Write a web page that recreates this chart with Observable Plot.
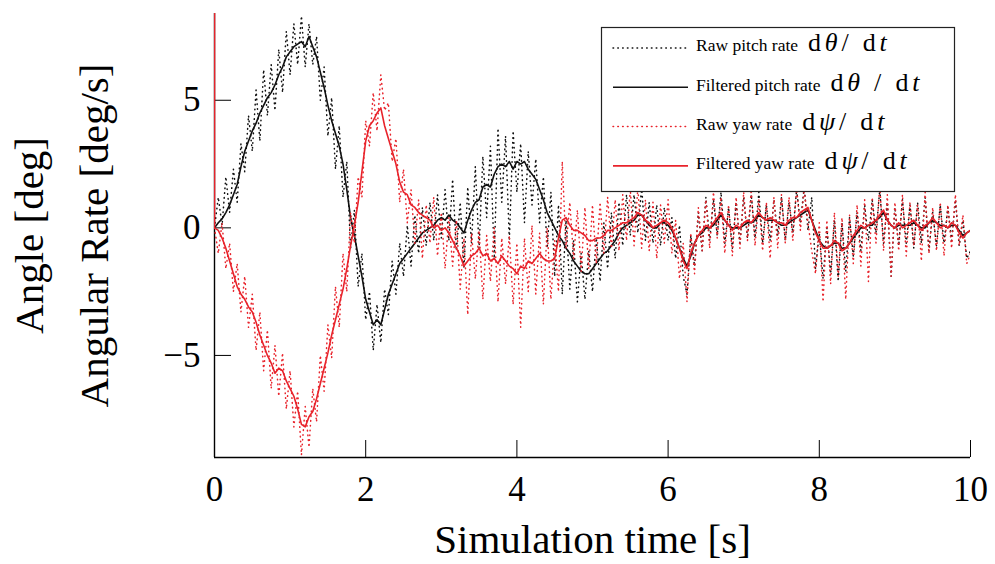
<!DOCTYPE html>
<html>
<head>
<meta charset="utf-8">
<script src="https://cdn.jsdelivr.net/npm/d3@7"></script>
<script src="https://cdn.jsdelivr.net/npm/@observablehq/plot@0.6"></script>
<style>
  html, body { margin: 0; padding: 0; background: #fff; }
  #chart { width: 995px; height: 564px; }
</style>
</head>
<body>
<div id="chart"></div>
<script>
// ---------------- data ----------------
const sampleStep = 0.05;           // seconds between samples, t = 0 … 10
const xDomain = [0, 10];
const yDomain = [-9, 8.4];
const xTicks = [0, 2, 4, 6, 8, 10];
const yTicks = [-5, 0, 5];
const xLabel = "Simulation time [s]";
const yLabelLines = ["Angle [deg]", "Angular Rate [deg/s]"];

const pitchRaw = [
  0.0, 1.2, 0.1, 2.0, 0.6, 2.3, 1.0, 3.3, 2.2, 4.4,
  3.0, 5.4, 3.4, 6.2, 4.4, 6.4, 4.6, 7.0, 5.3, 7.7,
  6.0, 8.0, 6.4, 8.3, 6.3, 8.0, 6.4, 7.5, 5.0, 6.3,
  3.6, 5.1, 2.3, 4.0, 1.2, 2.6, -0.8, 0.7, -2.3, -1.0,
  -3.6, -2.5, -4.8, -3.0, -4.5, -2.4, -3.4, -1.3, -2.6, -0.6,
  -1.9, 0.1, -1.5, 0.5, -1.0, 0.8, -0.7, 1.0, -0.5, 1.3,
  -0.4, 1.5, -0.5, 1.9, -0.9, 1.0, -1.6, 1.6, -0.6, 2.4,
  -0.8, 2.8, 0.4, 3.2, -1.2, 3.9, 1.0, 3.6, -0.5, 3.8,
  1.4, 3.3, 0.2, 3.0, 0.9, 2.7, 0.2, 2.0, -0.8, 1.4,
  -1.9, 0.9, -2.6, 0.3, -2.4, -0.5, -2.9, -1.0, -2.8, -0.9,
  -2.5, -0.4, -2.1, 0.2, -1.6, 0.6, -1.2, 1.0, -0.7, 1.3,
  -0.3, 1.3, -0.2, 1.6, -0.5, 1.0, -0.6, 0.9, -0.7, 0.8,
  -0.5, 0.4, -1.2, 0.1, -1.9, -2.6, -0.3, -1.5, 0.6, -0.9,
  1.2, -0.5, 1.1, -0.3, 1.4, -0.6, 0.8, -0.8, 1.0, -0.6,
  1.2, -0.4, 1.3, -0.4, 1.4, -0.6, 0.9, -0.5, 1.1, -0.3,
  1.2, -0.5, 1.0, -0.2, 1.5, 0.2, 1.6, -0.1, 1.2, -1.6,
  -0.2, -2.0, 0.0, -1.8, 0.3, -2.1, 0.2, -1.7, 0.4, -1.1,
  0.6, -0.9, 0.9, -0.5, 1.1, -0.2, 1.5, -0.6, 1.0, -1.9,
  0.8, -0.7, 1.1, -0.6, 0.9, -0.8, 1.0, -0.6, 1.2, -0.9,
  0.6, -0.7, 0.9, -0.6, 0.8, -0.5, 1.1, -0.7, 0.3, -1.2,
  -0.9
];

const pitchFiltered = [
  0.0, 0.2, 0.35, 0.6, 0.9, 1.3, 1.7, 2.4, 3.0, 3.4,
  3.8, 4.1, 4.5, 4.8, 5.1, 5.3, 5.6, 6.0, 6.3, 6.7,
  6.9, 7.1, 7.2, 7.3, 7.1, 7.5, 7.1, 6.7, 6.1, 5.5,
  4.8, 4.2, 3.7, 3.2, 2.5, 1.5, 0.4, -0.3, -1.1, -1.9,
  -2.8, -3.3, -3.8, -3.6, -3.8, -3.2, -2.6, -2.2, -1.8, -1.4,
  -1.2, -1.0, -0.8, -0.6, -0.4, -0.2, -0.1, 0.0, 0.1, 0.3,
  0.4, 0.3, 0.5, 0.3, 0.2, 0.0, -0.2, 0.3, 0.7, 1.0,
  1.1, 1.6, 1.7, 1.6, 2.1, 2.4, 2.5, 2.4, 2.6, 2.3,
  2.6, 2.5, 2.6, 2.3, 2.1, 1.9, 1.5, 1.1, 0.6, 0.3,
  0.0, -0.3, -0.5, -0.8, -1.0, -1.3, -1.5, -1.7, -1.8, -1.8,
  -1.6, -1.4, -1.2, -1.0, -0.9, -0.7, -0.5, -0.2, 0.0, 0.1,
  0.2, 0.3, 0.5, 0.5, 0.3, 0.1, 0.0, 0.0, 0.2, 0.2,
  0.1, -0.1, -0.4, -0.8, -1.2, -1.5, -1.1, -0.6, -0.3, -0.2,
  0.0, 0.0, 0.1, 0.3, 0.5, 0.3, 0.1, 0.0, 0.0, 0.0,
  0.1, 0.2, 0.2, 0.3, 0.5, 0.4, 0.3, 0.3, 0.3, 0.2,
  0.1, 0.1, 0.2, 0.3, 0.4, 0.5, 0.6, 0.7, 0.3, -0.1,
  -0.5, -0.7, -0.8, -0.7, -0.6, -0.6, -0.8, -0.8, -0.6, -0.4,
  -0.2, 0.0, 0.0, 0.1, 0.1, 0.3, 0.4, 0.6, 0.3, 0.1,
  0.0, 0.1, 0.1, 0.1, 0.1, 0.2, 0.1, 0.0, 0.0, 0.2,
  0.3, 0.2, 0.1, 0.1, 0.0, 0.1, 0.1, -0.1, -0.3, -0.2,
  -0.1
];

const yawRaw = [
  0.0, -1.0, 0.2, -1.6, -0.6, -2.5, -1.4, -3.3, -1.9, -3.9,
  -2.6, -4.8, -3.3, -5.6, -4.0, -6.3, -4.6, -6.6, -4.9, -7.1,
  -5.6, -7.8, -6.4, -8.9, -7.0, -8.6, -6.3, -7.6, -5.0, -6.4,
  -3.8, -5.1, -2.3, -3.9, -1.0, -2.5, 0.6, -0.6, 2.0, 1.2,
  4.2, 3.2, 5.3, 3.8, 6.0, 4.6, 4.9, 2.6, 3.5, 1.0,
  2.3, 0.2, 1.5, -0.6, 1.1, -1.2, 0.9, -0.6, 1.2, -1.1,
  0.6, -1.6, 0.4, -1.5, 0.3, -2.4, -0.4, -3.4, -0.2, -2.0,
  -0.1, -2.8, -0.3, -2.1, 0.0, -2.9, -0.4, -2.2, -0.3, -3.0,
  -0.6, -3.9, -0.4, -2.5, 0.1, -2.6, -0.2, -3.0, 0.0, -2.8,
  -0.5, -2.5, 2.6, -0.8, 1.0, -1.2, 0.7, -1.7, 0.8, -1.6,
  0.9, -1.4, 1.0, -1.0, 1.2, -0.8, 1.1, -0.9, 1.3, -0.5,
  1.5, -0.7, 1.6, -0.8, 1.1, -0.9, 1.0, -1.2, 0.9, -0.6,
  1.1, -1.0, 0.3, -2.0, -0.6, -2.9, -0.2, -1.8, 0.8, -0.9,
  1.1, -0.8, 1.4, -0.4, 1.2, -1.0, 0.9, -1.1, 1.2, -0.8,
  1.4, -0.5, 1.5, -0.7, 1.1, -0.9, 1.0, -1.2, 1.2, -0.8,
  1.3, -0.6, 1.2, -0.5, 1.6, -0.1, 1.5, 0.2, -0.9, -1.8,
  0.2, -2.9, 0.3, -2.2, 0.6, -1.9, 0.4, -2.8, 0.5, -1.4,
  0.9, -1.5, 1.1, -2.1, 1.2, -0.6, 1.7, -0.9, 1.3, -1.9,
  1.0, -0.9, 1.3, -1.1, 1.0, -0.7, 0.9, -1.3, 1.4, -1.0,
  0.8, -0.9, 1.0, -1.1, 0.9, -0.8, 1.3, -0.7, 0.5, -1.4,
  -1.0
];

const yawFiltered = [
  0.0, -0.1, -0.4, -0.8, -1.3, -1.8, -2.3, -2.6, -2.8, -3.1,
  -3.3, -3.7, -4.2, -4.6, -5.0, -5.3, -5.7, -5.5, -5.6, -6.0,
  -6.3, -6.6, -7.1, -7.7, -7.8, -7.4, -7.2, -6.7, -6.1, -5.5,
  -4.9, -4.2, -3.6, -3.0, -2.4, -1.6, -0.7, 0.1, 1.0, 2.2,
  3.4, 4.0, 4.2, 4.5, 4.7, 4.0, 3.5, 3.0, 2.5, 1.8,
  1.4, 1.3, 0.9, 0.8, 0.6, 0.5, 0.4, 0.3, 0.0, 0.1,
  -0.1, 0.0, -0.2, -0.5, -0.8, -1.1, -1.5, -1.3, -1.1, -1.0,
  -0.8, -1.1, -1.0, -1.3, -1.2, -1.4, -1.1, -1.3, -1.5, -1.6,
  -1.8, -1.5, -1.6, -1.3, -1.4, -1.2, -1.0, -1.2, -1.3, -1.3,
  -1.2, -0.4, 0.3, 0.4, 0.1, -0.1, -0.1, -0.2, -0.3, -0.5,
  -0.5, -0.4, -0.4, -0.3, -0.1, -0.1, 0.0, 0.1, 0.2, 0.2,
  0.3, 0.4, 0.6, 0.5, 0.3, 0.2, 0.0, 0.1, 0.2, 0.3,
  0.2, 0.0, -0.4, -0.8, -1.3, -1.6, -1.0, -0.6, -0.3, -0.1,
  0.1, 0.0, 0.2, 0.4, 0.6, 0.3, 0.1, -0.1, 0.1, 0.0,
  0.2, 0.3, 0.2, 0.4, 0.6, 0.4, 0.3, 0.4, 0.3, 0.2,
  0.2, 0.1, 0.3, 0.4, 0.4, 0.6, 0.7, 0.8, 0.3, -0.2,
  -0.5, -0.8, -0.8, -0.7, -0.5, -0.6, -0.9, -0.8, -0.6, -0.3,
  -0.1, 0.1, 0.0, 0.1, 0.2, 0.3, 0.5, 0.7, 0.3, 0.1,
  0.0, 0.2, 0.0, 0.1, 0.2, 0.3, 0.1, -0.1, 0.1, 0.2,
  0.4, 0.2, 0.0, 0.1, 0.0, 0.2, 0.1, -0.2, -0.4, -0.2,
  -0.1
];

// value the filtered yaw trace starts from at t = 0 (off the top of the axes, clipped)
const yawFilteredStart = 12;

const seriesNames = ["Raw pitch rate", "Filtered pitch rate", "Raw yaw rate", "Filtered yaw rate"];
const seriesMath = [
  [["d", false], ["θ", true], ["/", false], [" d", false], ["t", true]],
  [["d", false], ["θ", true], [" / ", false], ["d", false], ["t", true]],
  [["d", false], ["ψ", true], ["/", false], [" d", false], ["t", true]],
  [["d", false], ["ψ", true], ["/", false], [" d", false], ["t", true]]
];

// ---------------- styling ----------------
const RED = "#e8232b";
const BLACK = "#111";
const seriesStyle = [
  {stroke: BLACK, dash: "0.6,4.2", width: 1.5, cap: "round"},
  {stroke: BLACK, dash: null, width: 1.6, cap: "butt"},
  {stroke: RED, dash: "0.6,4.2", width: 1.5, cap: "round"},
  {stroke: RED, dash: null, width: 1.6, cap: "butt"}
];
const SERIF = "'Liberation Serif', 'Times New Roman', 'DejaVu Serif', serif";

// ---------------- rows ----------------
const toRows = (vals) => vals.map((v, i) => ({t: +(i * sampleStep).toFixed(2), v}));
const rowsPitchRaw = toRows(pitchRaw);
const rowsPitchFilt = toRows(pitchFiltered);
const rowsYawRaw = toRows(yawRaw);
const rowsYawFilt = [{t: 0, v: yawFilteredStart}, ...toRows(yawFiltered)];
const allRows = [rowsPitchRaw, rowsPitchFilt, rowsYawRaw, rowsYawFilt];

const lineMarks = allRows.map((rows, i) => Plot.line(rows, {
  x: "t", y: "v",
  stroke: seriesStyle[i].stroke,
  strokeWidth: seriesStyle[i].width,
  strokeDasharray: seriesStyle[i].dash,
  strokeLinecap: seriesStyle[i].cap,
  strokeLinejoin: "round",
  clip: true
}));

const plot = Plot.plot({
  width: 995,
  height: 564,
  marginLeft: 214,
  marginRight: 25,
  marginTop: 13,
  marginBottom: 107,
  x: {domain: xDomain, label: null},
  y: {domain: yDomain, label: null},
  style: {fontFamily: SERIF, background: "#fff", color: "#000"},
  marks: [
    // axis lines
    Plot.ruleX([xDomain[0]], {stroke: "#000", strokeWidth: 1.4}),
    Plot.ruleY([yDomain[0]], {stroke: "#000", strokeWidth: 1.4}),
    // inward tick marks
    Plot.axisX(xTicks, {tickSize: 17, dy: -17, tickFormat: () => "", label: null, strokeWidth: 1}),
    Plot.axisY(yTicks, {tickSize: 17, dx: 17, tickFormat: () => "", label: null, strokeWidth: 1}),
    // tick labels
    Plot.axisX(xTicks, {tickSize: 0, tickPadding: 19, fontSize: 35, label: null}),
    Plot.axisY(yTicks, {tickSize: 0, tickPadding: 14, fontSize: 35, label: null}),
    // axis titles
    Plot.text([xLabel], {frameAnchor: "bottom", dy: 82, fontSize: 41, lineAnchor: "middle", textAnchor: "middle", fill: "#000"}),
    Plot.text([yLabelLines[0]], {frameAnchor: "left", rotate: -90, dx: -185, fontSize: 41, lineAnchor: "middle", textAnchor: "middle", fill: "#000"}),
    Plot.text([yLabelLines[1]], {frameAnchor: "left", rotate: -90, dx: -120, fontSize: 41, lineAnchor: "middle", textAnchor: "middle", fill: "#000"}),
    ...lineMarks
  ]
});

document.getElementById("chart").appendChild(plot);

// ---------------- legend (inside plot, upper right) ----------------
const svg = d3.select(plot);
const lg = svg.append("g")
  .attr("font-family", SERIF)
  .attr("fill", "#000")
  .attr("text-anchor", "start");
lg.append("rect")
  .attr("x", 601.5).attr("y", 27.5).attr("width", 353).attr("height", 164)
  .attr("fill", "#fff").attr("stroke", "#222").attr("stroke-width", 1.2);

seriesNames.forEach((name, i) => {
  const cy = 48 + i * 39.3;
  const st = seriesStyle[i];
  lg.append("line")
    .attr("x1", 613).attr("x2", 688).attr("y1", cy).attr("y2", cy)
    .attr("stroke", st.stroke).attr("stroke-width", st.width)
    .attr("stroke-linecap", st.cap)
    .attr("stroke-dasharray", st.dash);
  const txt = lg.append("text")
    .attr("x", 696).attr("y", cy).attr("dy", "0.33em")
    .attr("text-anchor", "start");
  txt.append("tspan").attr("font-size", 17.5).text(name);
  seriesMath[i].forEach(([s, italic], j) => {
    const sp = txt.append("tspan")
      .attr("font-size", 26)
      .attr("letter-spacing", 3.8)
      .style("white-space", "pre")
      .text(s);
    if (italic) sp.attr("font-style", "italic");
    if (j === 0) sp.attr("dx", 10);
  });
});
</script>
</body>
</html>
